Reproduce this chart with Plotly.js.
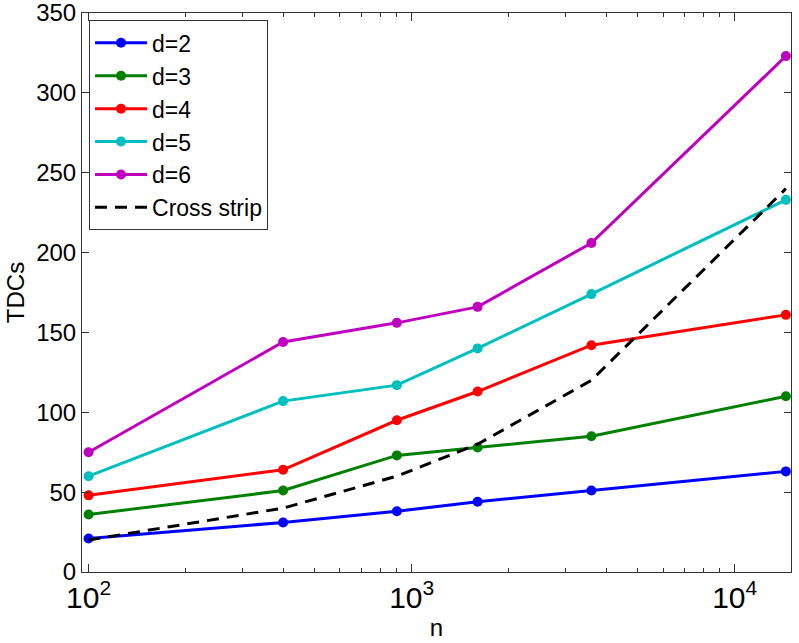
<!DOCTYPE html>
<html>
<head>
<meta charset="utf-8">
<script src="https://cdn.plot.ly/plotly-3.0.1.min.js"></script>
<style>html,body{margin:0;padding:0;background:#fff}#chart{width:799px;height:643px}</style>
</head>
<body>
<div id="chart"></div>
<script>
const n = [100, 400, 900, 1600, 3600, 14400];
const d2 = [21, 31, 38, 44, 51, 63];
const d3 = [36, 51, 73, 78, 85, 110];
const d4 = [48, 64, 95, 113, 142, 161];
const d5 = [60, 107, 117, 140, 174, 233];
const d6 = [75, 144, 156, 166, 206, 323];
const crossStrip = [20, 40, 60, 80, 120, 240];
const seriesNames = ['d=2', 'd=3', 'd=4', 'd=5', 'd=6', 'Cross strip'];

const colors = ['#0000FF', '#008000', '#FF0000', '#00BFBF', '#BF00BF', '#000000'];
const allY = [d2, d3, d4, d5, d6];

const traces = allY.map((y, i) => ({
  x: n, y: y, name: seriesNames[i], type: 'scatter', mode: 'lines+markers',
  line: {color: colors[i], width: 3},
  marker: {color: colors[i], size: 10, symbol: 'circle'}
}));
traces.push({
  x: n, y: crossStrip, name: seriesNames[5], type: 'scatter', mode: 'lines',
  line: {color: colors[5], width: 3, dash: '12px,8px'}
});

const fam = 'Liberation Sans, Arial, Helvetica, sans-serif';
const font = {family: fam, size: 24, color: '#000'};
const legFont = {family: fam, size: 23, color: '#000'};
const axisCol = '#333333';

const layout = {
  width: 799, height: 643,
  margin: {l: 82, r: 8, t: 13, b: 71, pad: 0},
  paper_bgcolor: '#fff', plot_bgcolor: '#fff',
  font: font,
  showlegend: true,
  legend: {
    x: 0.0099, y: 0.9868, xanchor: 'left', yanchor: 'top',
    bgcolor: '#fff', bordercolor: axisCol, borderwidth: 1,
    font: legFont, tracegroupgap: 0, itemwidth: 52
  },
  xaxis: {
    type: 'log', range: [1.9796, 4.1742],
    dtick: 1, exponentformat: 'power',
    showgrid: false, zeroline: false,
    showline: true, linecolor: axisCol, linewidth: 1, mirror: 'ticks',
    ticks: 'inside', ticklen: 8, tickcolor: axisCol, tickwidth: 1,
    minor: {ticks: 'inside', ticklen: 4, tickcolor: axisCol, tickwidth: 1, showgrid: false},
    tickfont: font, ticklabeloverflow: 'allow',
    title: {text: 'n', font: font, standoff: 4}
  },
  yaxis: {
    range: [0, 350], dtick: 50,
    showgrid: false, zeroline: false,
    showline: true, linecolor: axisCol, linewidth: 1, mirror: 'ticks',
    ticks: 'inside', ticklen: 7, tickcolor: axisCol, tickwidth: 1,
    tickfont: font, ticklabeloverflow: 'allow',
    title: {text: 'TDCs', font: font, standoff: 4}
  }
};

Plotly.newPlot('chart', traces, layout, {displayModeBar: false, staticPlot: true});
</script>
</body>
</html>
